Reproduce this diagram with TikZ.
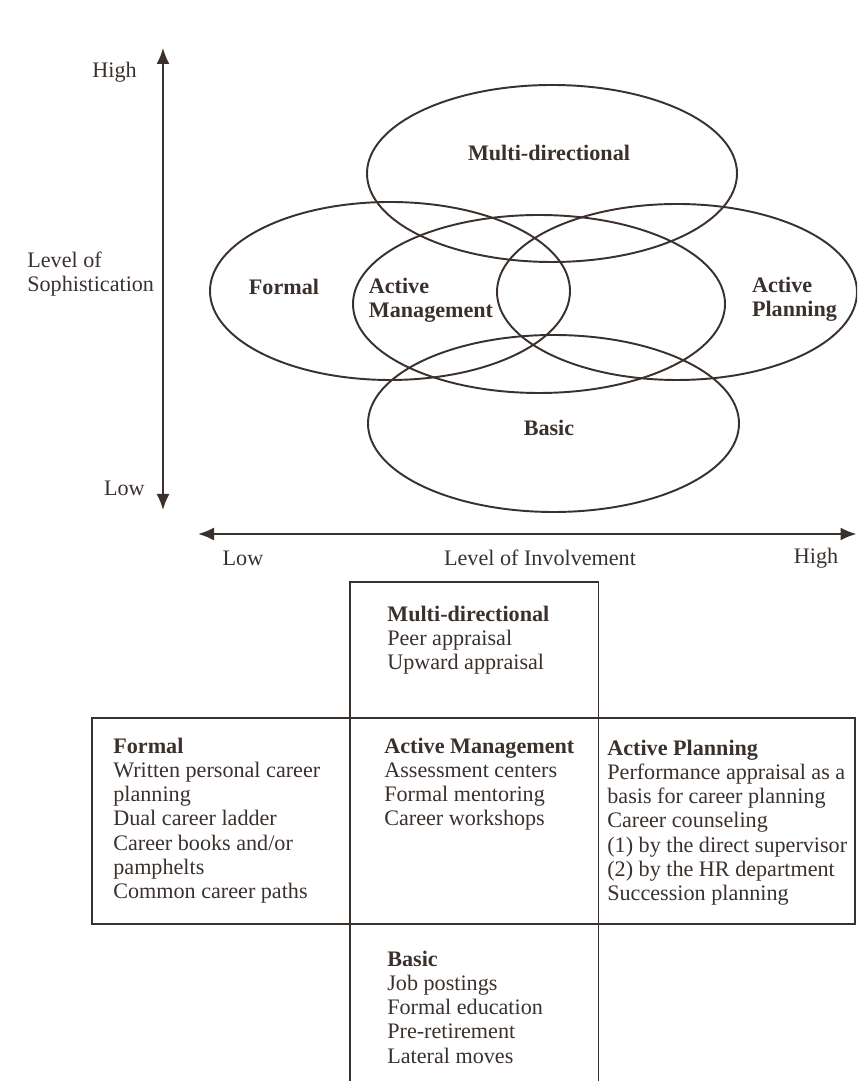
\documentclass[tikz,border=0pt]{standalone}
\usepackage{fontspec}
\setmainfont{Liberation Serif}
\usetikzlibrary{arrows.meta,shapes}
\definecolor{ink}{RGB}{58,48,44}
\tikzstyle{region}=[draw=ink,ellipse,inner sep=0pt,line width=1.1pt]
\tikzstyle{cell}=[draw=ink,rectangle,inner sep=0pt,line width=0.9pt]
\tikzstyle{axisarc}=[{Latex[length=0.32cm,width=0.26cm]}-{Latex[length=0.32cm,width=0.26cm]},draw=ink,line width=1.1pt]
\tikzstyle{regionlabel}=[font=\fontsize{12.6}{13.7}\selectfont\bfseries,text=ink,align=left,inner sep=0pt]
\tikzstyle{axislabel}=[font=\fontsize{12.6}{13.7}\selectfont,text=ink,align=left,inner sep=0pt]
\tikzstyle{celltext}=[font=\fontsize{12.6}{13.7}\selectfont,text=ink,align=left,inner sep=0pt,anchor=north west]

\begin{document}
\begin{tikzpicture}

\useasboundingbox (0cm,0cm) rectangle (17.14cm,21.62cm);
\clip (0cm,0cm) rectangle (17.14cm,21.62cm);

\coordinate (VTOP) at (3.26cm,20.66cm);
\coordinate (VBOTTOM) at (3.26cm,11.42cm);
\coordinate (HLEFT) at (3.96cm,10.94cm);
\coordinate (HRIGHT) at (17.13cm,10.94cm);

\draw[axisarc] (VBOTTOM) -- (VTOP);
\draw[axisarc] (HLEFT) -- (HRIGHT);

\node[axislabel,anchor=east] (VHIGH) at (2.74cm,20.18cm) {High};
\node[axislabel,anchor=west] (VNAME) at (0.54cm,16.14cm) {Level of\\Sophistication};
\node[axislabel,anchor=east] (VLOW) at (2.90cm,11.86cm) {Low};
\node[axislabel] (HLOW) at (4.86cm,10.46cm) {Low};
\node[axislabel] (HNAME) at (10.80cm,10.46cm) {Level of Involvement};
\node[axislabel] (HHIGH) at (16.32cm,10.46cm) {High};

\node[region,minimum width=7.40cm,minimum height=3.54cm] (E1) at (11.04cm,18.15cm) {};
\node[region,minimum width=7.20cm,minimum height=3.56cm] (E2) at (7.80cm,15.80cm) {};
\node[region,minimum width=7.44cm,minimum height=3.56cm] (E3) at (10.78cm,15.54cm) {};
\node[region,minimum width=7.20cm,minimum height=3.52cm] (E4) at (13.54cm,15.78cm) {};
\node[region,minimum width=7.42cm,minimum height=3.54cm] (E5) at (11.07cm,13.15cm) {};

\node[regionlabel] (L1) at (10.98cm,18.56cm) {Multi-directional};
\node[regionlabel] (L2) at (5.68cm,15.88cm) {Formal};
\node[regionlabel] (L3) at (8.62cm,15.62cm) {Active\\Management};
\node[regionlabel] (L4) at (15.89cm,15.63cm) {Active\\Planning};
\node[regionlabel] (L5) at (10.98cm,13.06cm) {Basic};

\node[cell,minimum width=4.97cm,minimum height=2.72cm] (B1) at (9.485cm,8.62cm) {};
\node[cell,minimum width=5.16cm,minimum height=4.12cm] (B2) at (4.42cm,5.20cm) {};
\node[cell,minimum width=4.97cm,minimum height=4.12cm] (B3) at (9.485cm,5.20cm) {};
\node[cell,minimum width=5.13cm,minimum height=4.12cm] (B4) at (14.535cm,5.20cm) {};
\node[cell,minimum width=4.97cm,minimum height=3.84cm] (B5) at (9.485cm,1.22cm) {};

\node[celltext] (T1) at (7.74cm,9.50cm) {\textbf{Multi-directional}\\Peer appraisal\\Upward appraisal};
\node[celltext] (T2) at (2.26cm,6.86cm) {\textbf{Formal}\\Written personal career\\planning\\Dual career ladder\\Career books and/or\\pamphelts\\Common career paths};
\node[celltext] (T3) at (7.68cm,6.86cm) {\textbf{Active Management}\\Assessment centers\\Formal mentoring\\Career workshops};
\node[celltext] (T4) at (12.14cm,6.82cm) {\textbf{Active Planning}\\Performance appraisal as a\\basis for career planning\\Career counseling\\(1) by the direct supervisor\\(2) by the HR department\\Succession planning};
\node[celltext] (T5) at (7.74cm,2.60cm) {\textbf{Basic}\\Job postings\\Formal education\\Pre-retirement\\Lateral moves};

\end{tikzpicture}
\end{document}
